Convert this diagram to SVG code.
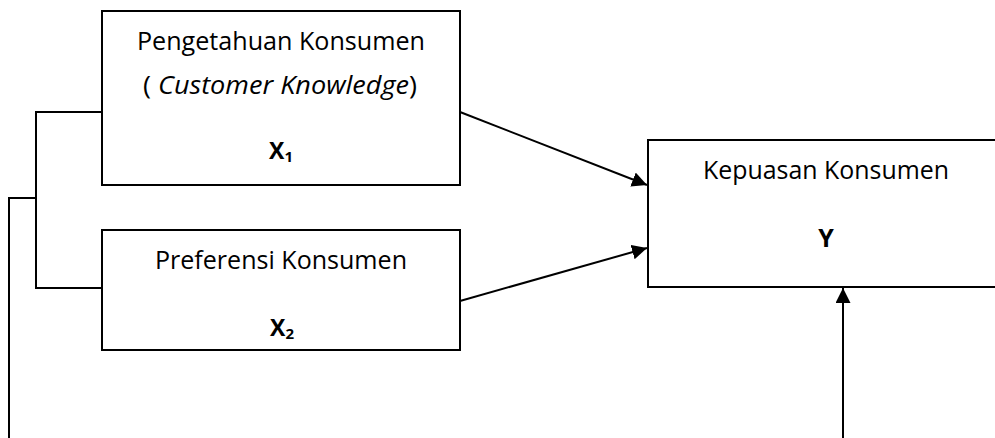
<svg xmlns="http://www.w3.org/2000/svg" width="995" height="438" viewBox="0 0 995 438">
<style>
.box{fill:#fff;stroke:#000;stroke-width:2}
.t{font-family:"Open Sans","Noto Sans",sans-serif;font-size:25px;fill:#000;text-anchor:middle}
.b{font-weight:bold;font-size:23px}
.sub{font-size:15px}
.ln{fill:none;stroke:#000;stroke-width:2}
</style>
<defs>
<marker id="ah" markerUnits="userSpaceOnUse" markerWidth="16" markerHeight="16" refX="15" refY="7.5" orient="auto">
<path d="M0,0 L15,7.5 L0,15 z" fill="#000"/>
</marker>
</defs>
<g id="connectors">
<polyline class="ln" points="102,112 36,112 36,288 102,288"/>
<polyline class="ln" points="36,198 9,198 9,440"/>
<line class="ln" x1="460" y1="112" x2="647" y2="185" marker-end="url(#ah)"/>
<line class="ln" x1="460" y1="301" x2="647" y2="248" marker-end="url(#ah)"/>
<line class="ln" x1="843" y1="440" x2="843" y2="288" marker-end="url(#ah)"/>
</g>
<g id="node-x1">
<rect class="box" x="102" y="11" width="358" height="174"/>
<text class="t" x="281" y="50" textLength="288" lengthAdjust="spacingAndGlyphs">Pengetahuan Konsumen</text>
<text class="t" x="280" y="94" textLength="274" lengthAdjust="spacingAndGlyphs">( <tspan font-style="italic">Customer Knowledge</tspan>)</text>
<text class="t b" x="281" y="159">X<tspan class="sub" dy="3">1</tspan></text>
</g>
<g id="node-x2">
<rect class="box" x="102" y="230" width="358" height="120"/>
<text class="t" x="281" y="269" textLength="252" lengthAdjust="spacingAndGlyphs">Preferensi Konsumen</text>
<text class="t b" x="282" y="336">X<tspan class="sub" dy="3">2</tspan></text>
</g>
<g id="node-y">
<rect class="box" x="648" y="140" width="360" height="147"/>
<text class="t" x="826" y="179" textLength="246" lengthAdjust="spacingAndGlyphs">Kepuasan Konsumen</text>
<text class="t b" x="826" y="247" style="font-size:25px">Y</text>
</g>
</svg>
